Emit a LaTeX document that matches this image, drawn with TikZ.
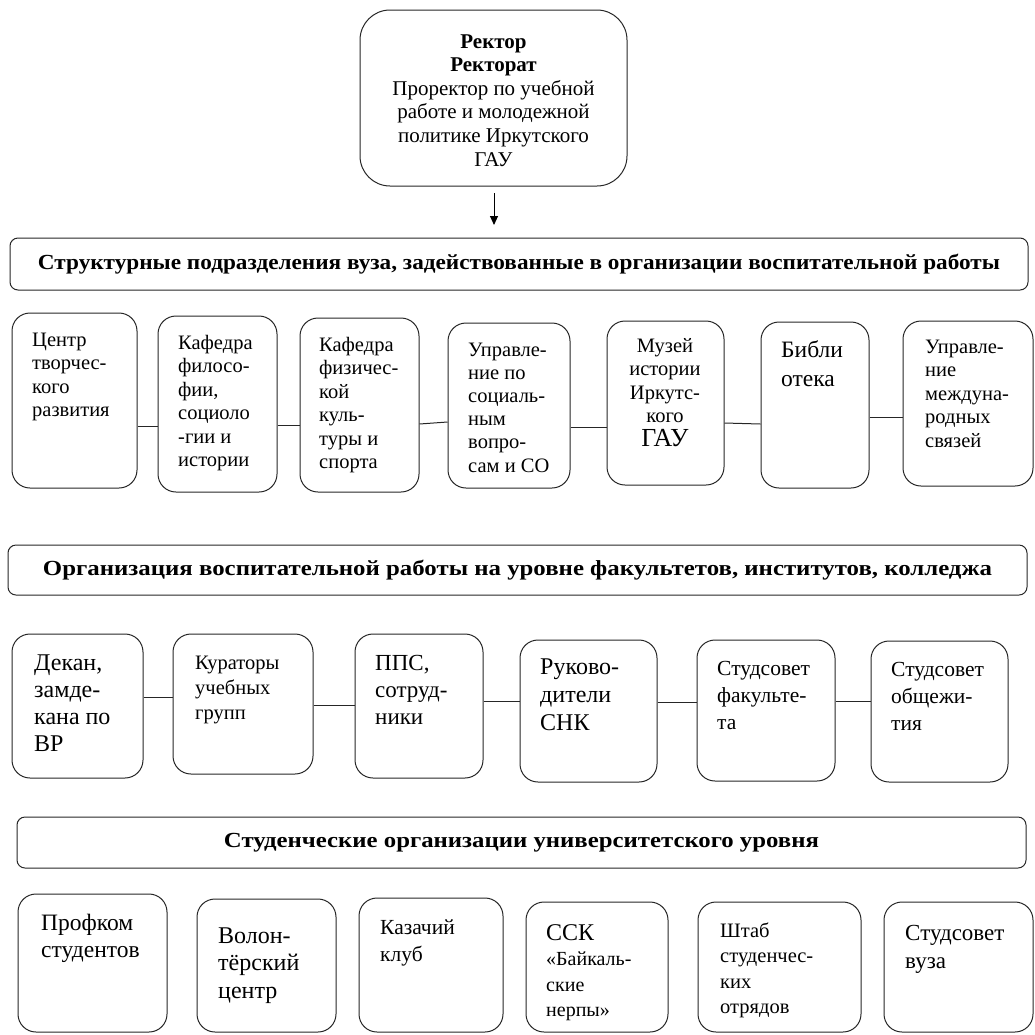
\documentclass[tikz,border=0pt]{standalone}
\usepackage{fontspec}
\usepackage{graphicx}
\setmainfont{Liberation Serif}
\usetikzlibrary{arrows.meta,fit}
\tikzset{
  rbox/.style={draw=black!85, line width=1pt, rounded corners=18pt, inner sep=0pt},
  hbox/.style={draw=black!85, line width=1pt, rounded corners=8pt, inner sep=0pt},
  topbox/.style={draw=black!85, line width=1pt, rounded corners=30pt, inner sep=0pt},
  txt/.style={inner sep=0pt, anchor=base west},
  ctxt/.style={inner sep=0pt, anchor=base},
  link/.style={line width=1pt, black!85},
  arr/.style={line width=1pt, -{Triangle[length=9pt,width=8pt]}}
}
\newcommand{\fs}[2]{\fontsize{#1}{#2}\selectfont}
\newcommand{\ltx}[3]{\parbox[t]{200pt}{\raggedright\fs{#1}{#2}#3}}
\begin{document}
\begin{tikzpicture}[x=1pt,y=-1pt]
\useasboundingbox (0,0) rectangle (1035,1034);
% top box
\node[topbox, fit={(360,10)(627,186)}] (top) {};
\node[ctxt] (topt) at (493.5,48) {\parbox[t]{260pt}{\centering\fs{21}{23.6}\textbf{Ректор}\\\textbf{Ректорат}\\Проректор по учебной\\работе и молодежной\\политике Иркутского\\ГАУ}};
\coordinate (as) at (494,193);
\coordinate (ae) at (494,225);
\draw[arr] (as) -- (ae);
% headers
\node[hbox, fit={(10,238)(1028,290)}] (h1) {};
\node (h1t) at (h1.center) {\resizebox{962pt}{\height}{\fs{21.5}{24}\bfseries Структурные подразделения вуза, задействованные в организации воспитательной работы}};
\node[hbox, fit={(8,545)(1027,595)}] (h2) {};
\node (h2t) at (h2.center) {\resizebox{949pt}{\height}{\fs{21.5}{24}\bfseries Организация воспитательной работы на уровне факультетов, институтов, колледжа}};
\node[hbox, fit={(17,817)(1026,868)}] (h3) {};
\node (h3t) at (h3.center) {\resizebox{595pt}{\height}{\fs{21.5}{24}\bfseries Студенческие организации университетского уровня}};
% row 1
\node[rbox, fit={(12,313)(137,488)}] (b1) {};
\node[rbox, fit={(158,316)(277,492)}] (b2) {};
\node[rbox, fit={(300,318)(419,492)}] (b3) {};
\node[rbox, fit={(448,323)(570,488)}] (b4) {};
\node[rbox, fit={(607,321)(724,485)}] (b5) {};
\node[rbox, fit={(761,322)(869,488)}] (b6) {};
\node[rbox, fit={(903,321)(1033,486)}] (b7) {};
\node[txt] (b1t) at (32,346) {\ltx{20.5}{23.5}{Центр\\творчес-\\кого\\развития}};
\node[txt] (b2t) at (178,349) {\ltx{20.5}{23.5}{Кафедра\\филосо-\\фии,\\социоло\\-гии и\\истории}};
\node[txt] (b3t) at (319,351) {\ltx{20.5}{23.5}{Кафедра\\физичес-\\кой\\куль-\\туры и\\спорта}};
\node[txt] (b4t) at (468,356) {\ltx{20.5}{23.2}{Управле-\\ние по\\социаль-\\ным\\вопро-\\сам и СО}};
\node[ctxt] (b5t) at (665,352) {\parbox[t]{110pt}{\centering\fs{20.5}{23.5}Музей\\истории\\Иркутс-\\кого\\{\fs{26}{28}ГАУ}}};
\node[txt] (b6t) at (781,357) {\ltx{23.5}{29}{Библи\\отека}};
\node[txt] (b7t) at (925,353) {\ltx{20.5}{23.5}{Управле-\\ние\\междуна-\\родных\\связей}};
\draw[link] (b1.east |- 0,426) -- (b2.west |- 0,426);
\draw[link] (b2.east |- 0,425) -- (b3.west |- 0,425);
\draw[link] (b3.east |- 0,424) -- (b4.west |- 0,422);
\draw[link] (b4.east |- 0,427) -- (b5.west |- 0,427);
\draw[link] (b5.east |- 0,423) -- (b6.west |- 0,424);
\draw[link] (b6.east |- 0,417) -- (b7.west |- 0,417);
% row 2
\node[rbox, fit={(12,634)(143,778)}] (c1) {};
\node[rbox, fit={(173,634)(313,774)}] (c2) {};
\node[rbox, fit={(355,634)(483,778)}] (c3) {};
\node[rbox, fit={(520,640)(657,782)}] (c4) {};
\node[rbox, fit={(697,640)(835,781)}] (c5) {};
\node[rbox, fit={(871,641)(1008,782)}] (c6) {};
\node[txt] (c1t) at (34,670) {\ltx{24}{27}{Декан,\\замде-\\кана по\\ВР}};
\node[txt] (c2t) at (195,669) {\ltx{20.5}{25}{Кураторы\\учебных\\групп}};
\node[txt] (c3t) at (375,670) {\ltx{23}{27}{ППС,\\сотруд-\\ники}};
\node[txt] (c4t) at (540,674) {\ltx{24}{28}{Руково-\\дители\\СНК}};
\node[txt] (c5t) at (717,675) {\ltx{21.5}{27}{Студсовет\\факульте-\\та}};
\node[txt] (c6t) at (891,676) {\ltx{21.5}{27}{Студсовет\\общежи-\\тия}};
\draw[link] (c1.east |- 0,697) -- (c2.west |- 0,697);
\draw[link] (c2.east |- 0,705) -- (c3.west |- 0,705);
\draw[link] (c3.east |- 0,701) -- (c4.west |- 0,701);
\draw[link] (c4.east |- 0,702) -- (c5.west |- 0,702);
\draw[link] (c5.east |- 0,701) -- (c6.west |- 0,701);
% row 3
\node[rbox, fit={(18,894)(167,1032)}] (d1) {};
\node[rbox, fit={(197,899)(336,1032)}] (d2) {};
\node[rbox, fit={(359,898)(503,1032)}] (d3) {};
\node[rbox, fit={(526,902)(668,1032)}] (d4) {};
\node[rbox, fit={(698,902)(861,1032)}] (d5) {};
\node[rbox, fit={(884,902)(1033,1032)}] (d6) {};
\node[txt] (d1t) at (41,930) {\ltx{23.5}{27.5}{Профком\\студентов}};
\node[txt] (d2t) at (218,943) {\ltx{24}{27.5}{Волон-\\тёрский\\центр}};
\node[txt] (d3t) at (380,934) {\ltx{21.5}{27}{Казачий\\клуб}};
\node[txt] (d4t) at (546,940) {\ltx{20}{25.5}{{\fs{24}{25.5}ССК}\\«Байкаль-\\ские\\нерпы»}};
\node[txt] (d5t) at (720,937) {\ltx{20.5}{25.5}{Штаб\\студенчес-\\ких\\отрядов}};
\node[txt] (d6t) at (905,940) {\ltx{23}{28.5}{Студсовет\\вуза}};
\end{tikzpicture}
\end{document}
